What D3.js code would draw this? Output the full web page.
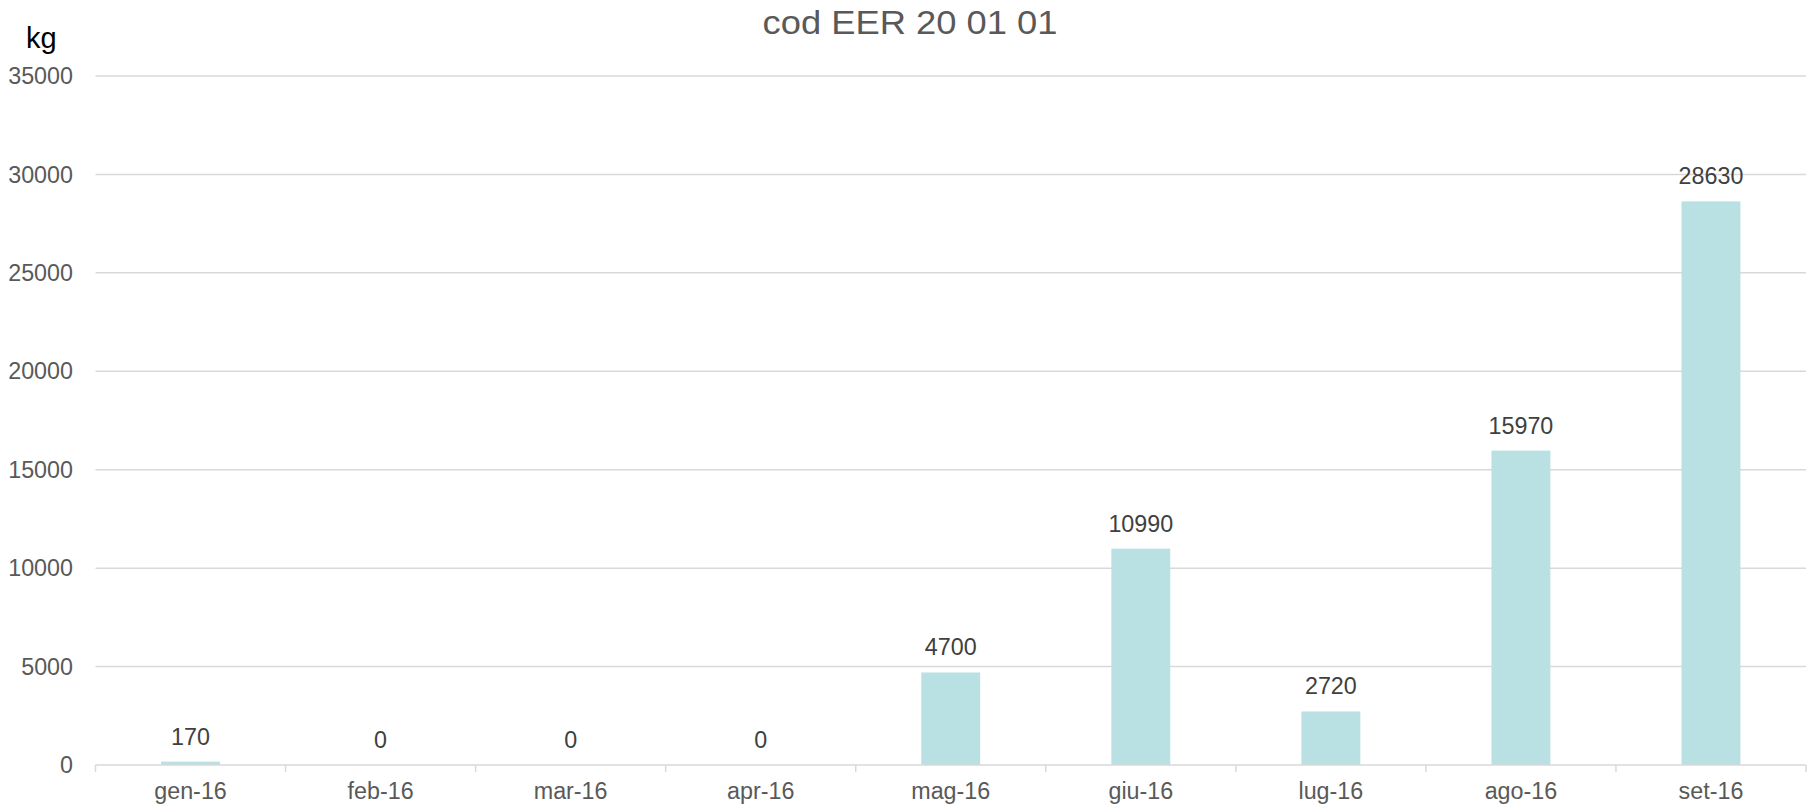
<!DOCTYPE html>
<html><head><meta charset="utf-8">
<script src="https://cdn.jsdelivr.net/npm/d3@7"></script>
<style>
html,body{margin:0;padding:0;background:#fff;}
text{font-family:"Liberation Sans",Arial,sans-serif;}
</style></head>
<body>
<svg id="chart" width="1816" height="809"></svg>
<script>
const categories = ["gen-16","feb-16","mar-16","apr-16","mag-16","giu-16","lug-16","ago-16","set-16"];
const values = [170, 0, 0, 0, 4700, 10990, 2720, 15970, 28630];
const yTicks = [0, 5000, 10000, 15000, 20000, 25000, 30000, 35000];
const title = "cod EER 20 01 01";
const unit = "kg";

const svg = d3.select("#chart");
const x0 = 95.5, x1 = 1806, yBottom = 765, yTop = 76;
const x = d3.scaleBand().domain(categories).range([x0, x1]).paddingInner(0.69).paddingOuter(0.345);
const xb = d3.scaleBand().domain(categories).range([x0, x1]);
const y = d3.scaleLinear().domain([0, 35000]).range([yBottom, yTop]);

// gridlines
svg.append("g").selectAll("line").data(yTicks.filter(d => d > 0)).join("line")
  .attr("x1", x0).attr("x2", x1)
  .attr("y1", d => y(d)).attr("y2", d => y(d))
  .attr("stroke", "#d9d9d9").attr("stroke-width", 1.5);

// y labels
svg.append("g").selectAll("text").data(yTicks).join("text")
  .attr("x", 73).attr("y", d => y(d)).attr("dy", "0.35em")
  .attr("text-anchor", "end").attr("fill", "#595959").attr("font-size", 23.3)
  .text(d => d);

// bars
svg.append("g").selectAll("rect").data(values).join("rect")
  .attr("x", (d, i) => x(categories[i]))
  .attr("width", x.bandwidth())
  .attr("y", d => y(d))
  .attr("height", d => yBottom - y(d))
  .attr("fill", "#b9e0e3");

// x axis line + ticks
svg.append("line").attr("x1", x0).attr("x2", x1).attr("y1", yBottom).attr("y2", yBottom)
  .attr("stroke", "#d9d9d9").attr("stroke-width", 1.5);
const tickPos = categories.map(c => xb(c)).concat([x1]);
svg.append("g").selectAll("line").data(tickPos).join("line")
  .attr("x1", d => d).attr("x2", d => d).attr("y1", yBottom).attr("y2", yBottom + 7)
  .attr("stroke", "#d9d9d9").attr("stroke-width", 1.5);

// x labels
svg.append("g").selectAll("text").data(categories).join("text")
  .attr("x", d => xb(d) + xb.bandwidth() / 2).attr("y", 799)
  .attr("text-anchor", "middle").attr("fill", "#595959").attr("font-size", 23.3)
  .text(d => d);

// data labels
svg.append("g").selectAll("text").data(values).join("text")
  .attr("x", (d, i) => xb(categories[i]) + xb.bandwidth() / 2)
  .attr("y", d => y(d) - 17)
  .attr("text-anchor", "middle").attr("fill", "#404040").attr("font-size", 23.3)
  .text(d => d);

// title
svg.append("text").attr("x", 910).attr("y", 33.5).attr("text-anchor", "middle")
  .attr("fill", "#595959").attr("font-size", 33)
  .attr("textLength", 295).attr("lengthAdjust", "spacingAndGlyphs").text(title);

// unit
svg.append("text").attr("x", 26).attr("y", 47.5).attr("fill", "#000").attr("font-size", 29).text(unit);
</script>
</body></html>
